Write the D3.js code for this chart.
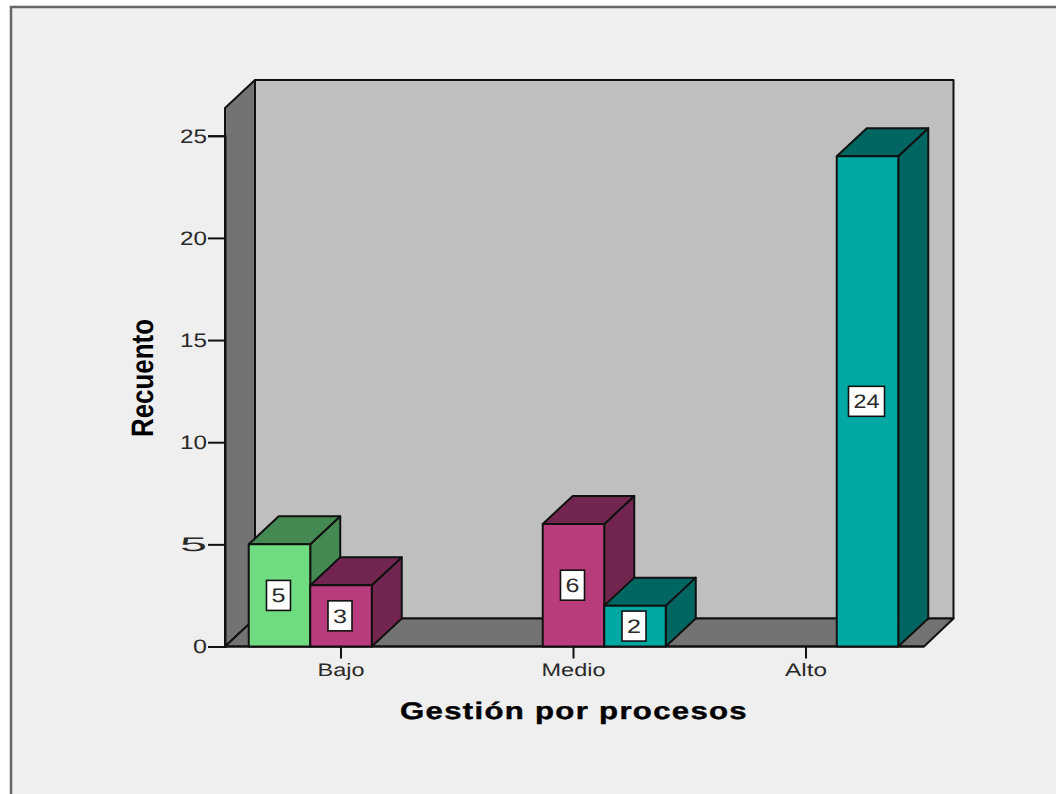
<!DOCTYPE html>
<html>
<head>
<meta charset="utf-8">
<script src="https://cdn.jsdelivr.net/npm/d3@7/dist/d3.min.js"></script>
<style>
html,body{margin:0;padding:0;background:#fff;overflow:hidden}
svg{display:block}
text{font-family:"Liberation Sans",Arial,sans-serif;text-rendering:geometricPrecision}
</style>
</head>
<body>
<svg id="chart" width="1056" height="794"></svg>
<script>
// Counts per category, one array per clustered series
const categories = ["Bajo", "Medio", "Alto"];
const seriesNames = ["Bajo", "Medio", "Alto"];
const seriesBajo = [5, 0, 0];
const seriesMedio = [3, 6, 0];
const seriesAlto = [0, 2, 24];
const yTicks = [0, 5, 10, 15, 20, 25];
const xTitle = "Gestión por procesos";
const yTitle = "Recuento";

const frontColors = ["#70dc82", "#b93c7c", "#00a8a4"];
const sideColors = ["#458a53", "#72264f", "#006661"];
const INK = "#111";
const TEXT = "#2a2a2a";
const LINE = 2;

const svg = d3.select("#chart");

// Oblique projection offset between the front and back planes of the box
const depth = { x: 30, y: -28 };
const plot = { left: 225, right: 924, top: 108, bottom: 646.5 };

const y = d3.scaleLinear().domain([0, 25]).range([plot.bottom, plot.bottom - 25 * 20.43]);
const x = d3.scaleBand().domain(categories).range([224.75, 922.25]).paddingInner(0).paddingOuter(0);
const xInner = d3.scaleBand().domain(seriesNames).range([0, x.bandwidth()]).paddingOuter(0.39).paddingInner(0);

const path = pts => "M" + pts.map(p => p.join(",")).join("L") + "Z";

// Panel background
svg.append("rect").attr("x", 11).attr("y", 7).attr("width", 1060).attr("height", 800)
  .attr("fill", "#efefef").attr("stroke", "#666").attr("stroke-width", 2.5);

// Back wall, side wall and floor
const { left: L, right: R, top: T, bottom: B } = plot;
const walls = svg.append("g").attr("stroke", INK).attr("stroke-width", LINE).attr("stroke-linejoin", "round");
walls.append("path").attr("fill", "#bfbfbf")
  .attr("d", path([[L + depth.x, T + depth.y], [R + depth.x - 0.5, T + depth.y], [R + depth.x - 0.5, B + depth.y], [L + depth.x, B + depth.y]]));
walls.append("path").attr("fill", "#737373")
  .attr("d", path([[L, T], [L + depth.x, T + depth.y], [L + depth.x, B + depth.y], [L, B]]));
walls.append("path").attr("fill", "#737373")
  .attr("d", path([[L, B], [L + depth.x, B + depth.y], [R + depth.x - 0.5, B + depth.y], [R, B]]));

// Value axis
const yAxis = svg.append("g").attr("transform", `translate(${L},0)`)
  .call(d3.axisLeft(y).tickValues(yTicks).tickSize(17).tickPadding(1).tickFormat(d3.format("d")));
yAxis.select(".domain").attr("stroke", INK).attr("stroke-width", LINE);
yAxis.selectAll(".tick line").attr("stroke", INK).attr("stroke-width", LINE);
yAxis.selectAll(".tick text").attr("font-size", 19.5).attr("fill", TEXT)
  .style("font-family", '"Liberation Sans",Arial,sans-serif')
  .attr("textLength", d => d === 0 ? 14 : 27).attr("lengthAdjust", "spacingAndGlyphs");

// Category axis
const xAxis = svg.append("g").attr("transform", `translate(0,${B})`)
  .call(d3.axisBottom(x).tickSize(12).tickPadding(5));
xAxis.select(".domain").remove();
xAxis.selectAll(".tick line").attr("stroke", INK).attr("stroke-width", LINE);
svg.append("line").attr("x1", L).attr("x2", R).attr("y1", B).attr("y2", B)
  .attr("stroke", INK).attr("stroke-width", LINE);
const labelWidths = { Bajo: 47, Medio: 64, Alto: 42 };
xAxis.selectAll(".tick text").attr("font-size", 18).attr("fill", TEXT)
  .style("font-family", '"Liberation Sans",Arial,sans-serif')
  .attr("textLength", d => labelWidths[d]).attr("lengthAdjust", "spacingAndGlyphs");

// Clustered 3D bars
const series = [seriesBajo, seriesMedio, seriesAlto];
const bars = [];
categories.forEach((cat, ci) => {
  series.forEach((values, si) => {
    if (values[ci] > 0) bars.push({ cat, si, value: values[ci] });
  });
});

const barG = svg.append("g").selectAll("g").data(bars).join("g")
  .attr("stroke", INK).attr("stroke-width", LINE).attr("stroke-linejoin", "round");
const x0 = d => x(d.cat) + xInner(seriesNames[d.si]);
const x1 = d => x0(d) + xInner.bandwidth();

barG.append("path").attr("fill", d => sideColors[d.si])
  .attr("d", d => path([[x1(d), y(d.value)], [x1(d) + depth.x, y(d.value) + depth.y], [x1(d) + depth.x, B + depth.y], [x1(d), B]]));
barG.append("path").attr("fill", d => sideColors[d.si])
  .attr("d", d => path([[x0(d), y(d.value)], [x0(d) + depth.x, y(d.value) + depth.y], [x1(d) + depth.x, y(d.value) + depth.y], [x1(d), y(d.value)]]));
barG.append("rect").attr("fill", d => frontColors[d.si])
  .attr("x", x0).attr("y", d => y(d.value))
  .attr("width", xInner.bandwidth()).attr("height", d => B - y(d.value));

// Value labels in white boxes at mid-height of each bar
const labels = svg.append("g").selectAll("g").data(bars).join("g")
  .attr("transform", d => `translate(${(x0(d) + x1(d)) / 2 - 1},${y(d.value / 2)})`);
labels.append("rect")
  .attr("x", d => d.value >= 10 ? -18 : -12).attr("y", -15)
  .attr("width", d => d.value >= 10 ? 36 : 24).attr("height", 30)
  .attr("fill", "#fff").attr("stroke", INK).attr("stroke-width", 1.6);
labels.append("text").text(d => d.value).attr("text-anchor", "middle").attr("dy", "0.36em")
  .attr("font-size", 19.5).attr("fill", TEXT)
  .attr("textLength", d => d.value >= 10 ? 26 : 14).attr("lengthAdjust", "spacingAndGlyphs");

// Axis titles
svg.append("text").text(xTitle).attr("x", 574).attr("y", 719).attr("text-anchor", "middle")
  .attr("font-weight", "bold").attr("font-size", 24).attr("letter-spacing", 1).attr("fill", "#000")
  .attr("stroke", "#000").attr("stroke-width", 0.4)
  .attr("textLength", 348).attr("lengthAdjust", "spacingAndGlyphs");
svg.append("text").text(yTitle).attr("transform", "translate(153,378) rotate(-90)").attr("text-anchor", "middle")
  .attr("font-weight", "bold").attr("font-size", 31).attr("fill", "#000")
  .attr("textLength", 118).attr("lengthAdjust", "spacingAndGlyphs");
</script>
</body>
</html>
